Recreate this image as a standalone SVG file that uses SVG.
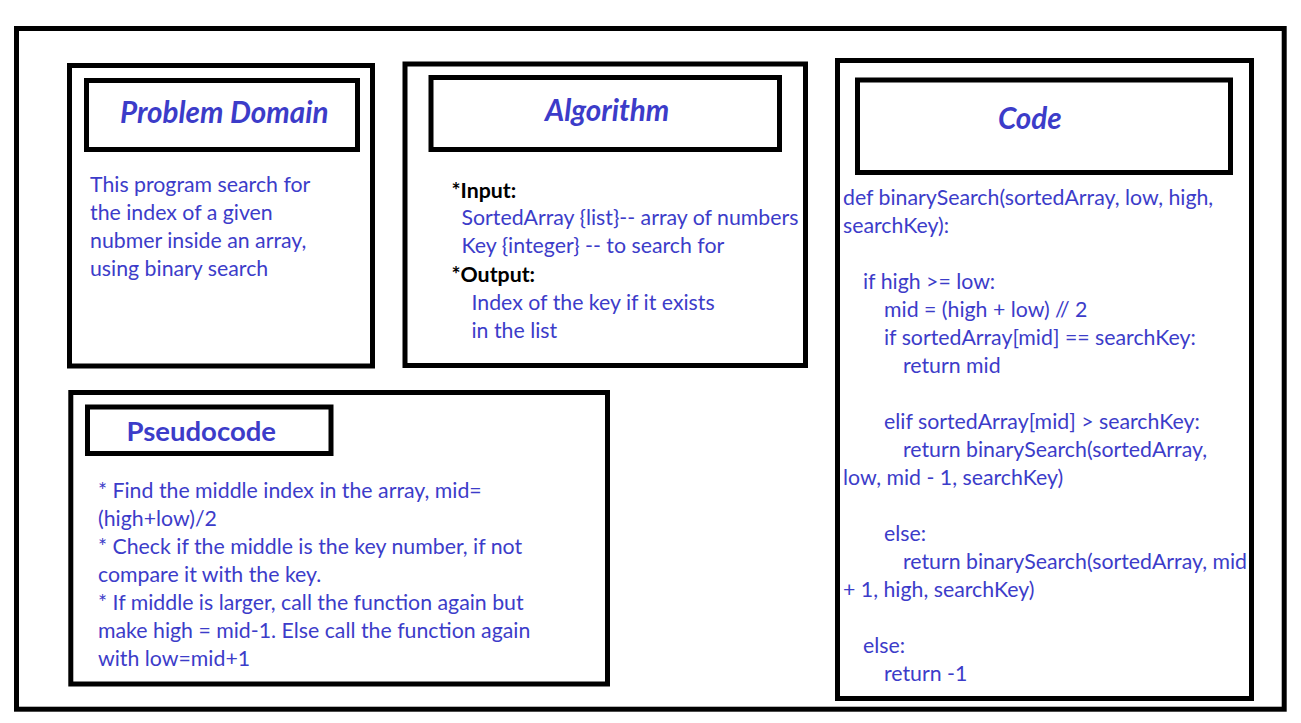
<svg xmlns="http://www.w3.org/2000/svg" width="1301" height="723" viewBox="0 0 1301 723">
<style>
.box{fill:none;stroke:#000;stroke-width:5}
.t{font-family:Lato,"Open Sans","DejaVu Sans",sans-serif;font-size:21.3px;fill:#3c3cc9}
.h{font-family:Lato,"Open Sans","DejaVu Sans",sans-serif;font-size:29.6px;font-weight:bold;font-style:italic;fill:#3c3cc9}
.hb{font-family:Lato,"Open Sans","DejaVu Sans",sans-serif;font-size:27.5px;font-weight:bold;fill:#3c3cc9}
.k{font-family:Lato,"Open Sans","DejaVu Sans",sans-serif;font-size:21.3px;font-weight:bold;fill:#000}
</style>
<rect width="1301" height="723" fill="#fff"/>
<rect class="box" x="16.5" y="28.5" width="1267.7" height="680.7"/>
<g id="problem-domain">
<rect class="box" x="69.5" y="65.5" width="303" height="300.5"/>
<rect class="box" x="86.5" y="80.5" width="271" height="69"/>
<text class="h" x="120" y="123">Problem Domain</text>
<text class="t" x="90" y="192">This program search for</text>
<text class="t" x="90" y="220">the index of a given</text>
<text class="t" x="90" y="248">nubmer inside an array,</text>
<text class="t" x="90" y="276">using binary search</text>
</g>
<g id="algorithm">
<rect class="box" x="405" y="64" width="400.5" height="301.5"/>
<rect class="box" x="431" y="77.5" width="348.5" height="72"/>
<text class="h" x="545" y="121">Algorithm</text>
<text class="k" x="451.5" y="198">*Input:</text>
<text class="t" x="461.5" y="225">SortedArray {list}-- array of numbers</text>
<text class="t" x="461.5" y="253">Key {integer} -- to search for</text>
<text class="k" x="451.5" y="282">*Output:</text>
<text class="t" x="471.5" y="310">Index of the key if it exists</text>
<text class="t" x="471.5" y="338">in the list</text>
</g>
<g id="code">
<rect class="box" x="837.5" y="60.5" width="414" height="638"/>
<rect class="box" x="857.5" y="80" width="373" height="92.5"/>
<text class="h" x="998" y="129">Code</text>
<text class="t" x="843" y="205">def binarySearch(sortedArray, low, high,</text>
<text class="t" x="843" y="233">searchKey):</text>
<text class="t" x="863" y="289">if high &gt;= low:</text>
<text class="t" x="884" y="317">mid = (high + low) // 2</text>
<text class="t" x="884" y="345">if sortedArray[mid] == searchKey:</text>
<text class="t" x="903" y="373">return mid</text>
<text class="t" x="884" y="429">elif sortedArray[mid] &gt; searchKey:</text>
<text class="t" x="903" y="457">return binarySearch(sortedArray,</text>
<text class="t" x="843" y="485">low, mid - 1, searchKey)</text>
<text class="t" x="884" y="541">else:</text>
<text class="t" x="903" y="569">return binarySearch(sortedArray, mid</text>
<text class="t" x="843" y="597">+ 1, high, searchKey)</text>
<text class="t" x="863" y="653">else:</text>
<text class="t" x="884" y="681">return -1</text>
</g>
<g id="pseudocode">
<rect class="box" x="70.8" y="392.5" width="536.7" height="291.5"/>
<rect class="box" x="87.5" y="407" width="243.5" height="46.5"/>
<text class="hb" x="126.5" y="441">Pseudocode</text>
<text class="t" x="98" y="498">* Find the middle index in the array, mid=</text>
<text class="t" x="98" y="526">(high+low)/2</text>
<text class="t" x="98" y="554">* Check if the middle is the key number, if not</text>
<text class="t" x="98" y="582">compare it with the key.</text>
<text class="t" x="98" y="610">* If middle is larger, call the function again but</text>
<text class="t" x="98" y="638">make high = mid-1. Else call the function again</text>
<text class="t" x="98" y="666">with low=mid+1</text>
</g>
<g id="connectors"></g>
</svg>
